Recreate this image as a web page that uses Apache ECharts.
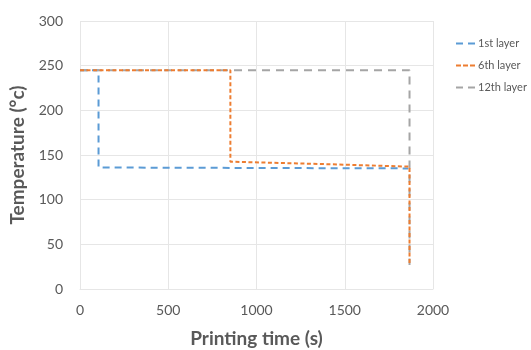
<!DOCTYPE html>
<html>
<head>
<meta charset="utf-8">
<script src="https://cdn.jsdelivr.net/npm/echarts@6/dist/echarts.min.js"></script>
<style>
  html, body { margin: 0; padding: 0; background: #fff; }
  #chart { width: 531px; height: 350px; }
</style>
</head>
<body>
<div id="chart"></div>
<script>
// Temperature history per layer: [printing time (s), temperature (°C)]
const seriesNames = ['1st layer', '6th layer', '12th layer'];
const seriesColors = ['#5b9bd5', '#ed7d31', '#a5a5a5'];
const layer1Time = [0, 105, 105, 1860];
const layer1Temp = [245, 245, 136, 135];
const layer6Time = [0, 852, 852, 1350, 1867, 1867];
const layer6Temp = [245, 245, 142.5, 140, 137, 27];
const layer12Time = [0, 1867, 1867];
const layer12Temp = [245, 245, 27];

const xTicks = { min: 0, max: 2000, interval: 500 };
const yTicks = { min: 0, max: 300, interval: 50 };

const pairs = (xs, ys) => xs.map((x, i) => [x, ys[i]]);

// Legend swatches drawn as dash patterns
const twoDashes = 'path://M0,0h7v2h-7z M12,0h7v2h-7z';
const threeDashes = 'path://M0,0h5v2h-5z M7,0h5v2h-5z M14,0h5v2h-5z';

const font = 'Lato, "Open Sans", sans-serif';
const textGray = '#595959';
const gridGray = '#e6e6e6';

const chart = echarts.init(document.getElementById('chart'));
chart.setOption({
  animation: false,
  textStyle: { fontFamily: font },
  grid: { left: 80, right: 98, top: 21, bottom: 61, containLabel: false, outerBoundsMode: 'none' },
  legend: {
    orient: 'vertical',
    left: 451,
    top: 33,
    itemGap: 11,
    itemWidth: 19,
    itemHeight: 2,
    textStyle: { color: textGray, fontSize: 11, fontFamily: font, padding: [0, 0, 0, -2] },
    data: [
      { name: seriesNames[0], icon: twoDashes },
      { name: seriesNames[1], icon: threeDashes },
      { name: seriesNames[2], icon: twoDashes }
    ]
  },
  xAxis: {
    type: 'value',
    min: xTicks.min, max: xTicks.max, interval: xTicks.interval,
    name: 'Printing time (s)',
    nameLocation: 'middle',
    nameGap: 40,
    nameTextStyle: { color: textGray, fontSize: 19, fontWeight: 'bold', fontFamily: font },
    axisLine: { show: true, lineStyle: { color: gridGray } },
    axisTick: { show: false },
    axisLabel: { color: textGray, fontSize: 14, margin: 14, formatter: v => String(v) },
    splitLine: { show: true, lineStyle: { color: gridGray } }
  },
  yAxis: {
    type: 'value',
    min: yTicks.min, max: yTicks.max, interval: yTicks.interval,
    name: 'Temperature (°c)',
    nameLocation: 'middle',
    nameGap: 46,
    nameTextStyle: { color: textGray, fontSize: 19, fontWeight: 'bold', fontFamily: font },
    axisLine: { show: false },
    axisTick: { show: false },
    axisLabel: { color: textGray, fontSize: 14, margin: 17 },
    splitLine: { show: true, lineStyle: { color: gridGray } }
  },
  series: [
    {
      name: seriesNames[0], type: 'line', symbol: 'none', z: 2,
      data: pairs(layer1Time, layer1Temp),
      itemStyle: { color: seriesColors[0] },
      lineStyle: { width: 2, type: [7, 5], color: seriesColors[0] }
    },
    {
      name: seriesNames[1], type: 'line', symbol: 'none', z: 4,
      data: pairs(layer6Time, layer6Temp),
      itemStyle: { color: seriesColors[1] },
      lineStyle: { width: 2, type: [4, 2.5], color: seriesColors[1] }
    },
    {
      name: seriesNames[2], type: 'line', symbol: 'none', z: 3,
      data: pairs(layer12Time, layer12Temp),
      itemStyle: { color: seriesColors[2] },
      lineStyle: { width: 2, type: [8, 6], color: seriesColors[2] }
    }
  ]
});
</script>
</body>
</html>
